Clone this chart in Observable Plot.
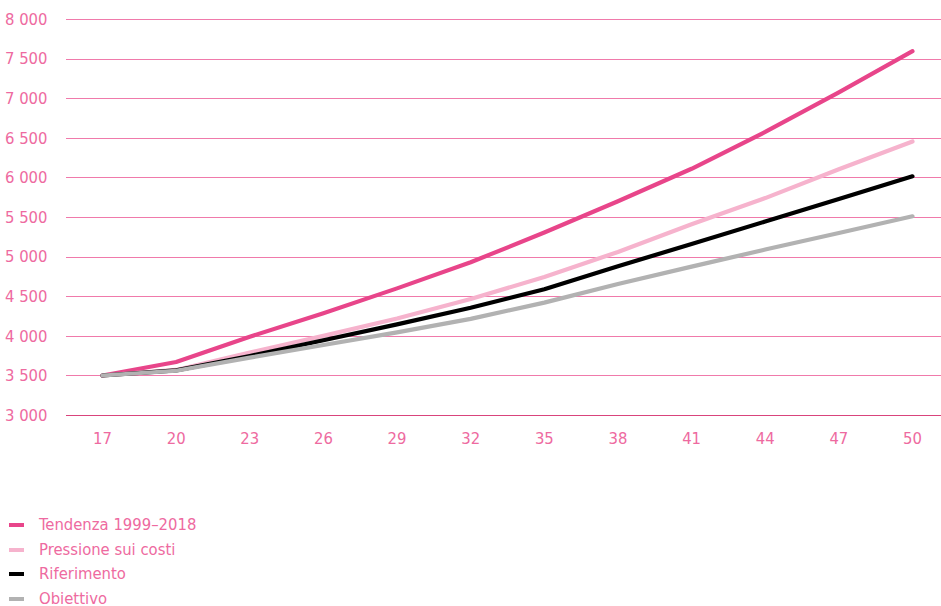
<!DOCTYPE html>
<html>
<head>
<meta charset="utf-8">
<script src="https://cdn.jsdelivr.net/npm/d3@7"></script>
<script src="https://cdn.jsdelivr.net/npm/@observablehq/plot@0.6"></script>
<style>
  body { margin: 0; background: #fff; font-family: "DejaVu Sans Condensed", Roboto, sans-serif; }
  #chart svg { display: block; }
  .legend { margin-top: 63px; }
  .legend .item { display: flex; align-items: center; height: 24.5px; font-size: 16.5px; color: #ee6aa0; line-height: 1; }
  .legend .sw { width: 15px; height: 4px; margin-left: 9px; margin-right: 15px; }
</style>
</head>
<body>
<div id="chart"></div>
<div class="legend" id="legend"></div>
<script>
const years = [17, 20, 23, 26, 29, 32, 35, 38, 41, 44, 47, 50];
const seriesNames = ["Tendenza 1999–2018", "Pressione sui costi", "Riferimento", "Obiettivo"];
const seriesColors = ["#e8458a", "#f6b3cd", "#000000", "#b2b2b2"];
const tendenza   = [3505, 3675, 3995, 4290, 4605, 4935, 5310, 5705, 6115, 6580, 7080, 7600];
const pressione  = [3505, 3575, 3795, 4005, 4225, 4470, 4750, 5065, 5415, 5745, 6110, 6460];
const riferimento= [3505, 3570, 3750, 3950, 4150, 4360, 4595, 4885, 5165, 5450, 5735, 6020];
const obiettivo  = [3505, 3565, 3730, 3890, 4050, 4220, 4425, 4660, 4880, 5095, 5305, 5515];
const yTicks = [3000, 3500, 4000, 4500, 5000, 5500, 6000, 6500, 7000, 7500, 8000];

const allValues = [tendenza, pressione, riferimento, obiettivo];
const data = [];
seriesNames.forEach((name, i) => {
  years.forEach((yr, j) => data.push({series: name, year: yr, value: allValues[i][j]}));
});

const fmt = d => d3.format(",")(d).replace(/,/g, " ");
const textColor = "#ee6aa0";

const chart = Plot.plot({
  width: 941,
  height: 450,
  marginTop: 19,
  marginBottom: 35,
  marginLeft: 66,
  marginRight: 0,
  style: { fontFamily: "'DejaVu Sans Condensed', Roboto, sans-serif", fontSize: "16.5px", color: textColor, background: "#fff" },
  x: { domain: [17, 50], range: [102, 912], ticks: years, tickFormat: d => String(d) },
  y: { domain: [3000, 8000], ticks: yTicks, tickFormat: fmt },
  color: { domain: seriesNames, range: seriesColors },
  marks: [
    Plot.ruleY(yTicks.filter(d => d > 3000), { stroke: "#f07aab", strokeWidth: 1, shapeRendering: "crispEdges" }),
    Plot.ruleY([3000], { stroke: "#d9447c", strokeWidth: 1.3, shapeRendering: "crispEdges" }),
    Plot.axisX({ ticks: years, tickSize: 0, tickPadding: 17, tickFormat: d => String(d), label: null, fill: textColor }),
    Plot.axisY({ ticks: yTicks, tickSize: 0, tickPadding: 19, tickFormat: fmt, label: null, fill: textColor }),
    Plot.line(data, { x: "year", y: "value", z: "series", stroke: "series", strokeWidth: 4.2, curve: "linear" })
  ]
});
document.getElementById("chart").appendChild(chart);

const legend = document.getElementById("legend");
seriesNames.forEach((name, i) => {
  const item = document.createElement("div");
  item.className = "item";
  const sw = document.createElement("span");
  sw.className = "sw";
  sw.style.background = seriesColors[i];
  const lab = document.createElement("span");
  lab.textContent = name;
  item.appendChild(sw);
  item.appendChild(lab);
  legend.appendChild(item);
});
</script>
</body>
</html>
